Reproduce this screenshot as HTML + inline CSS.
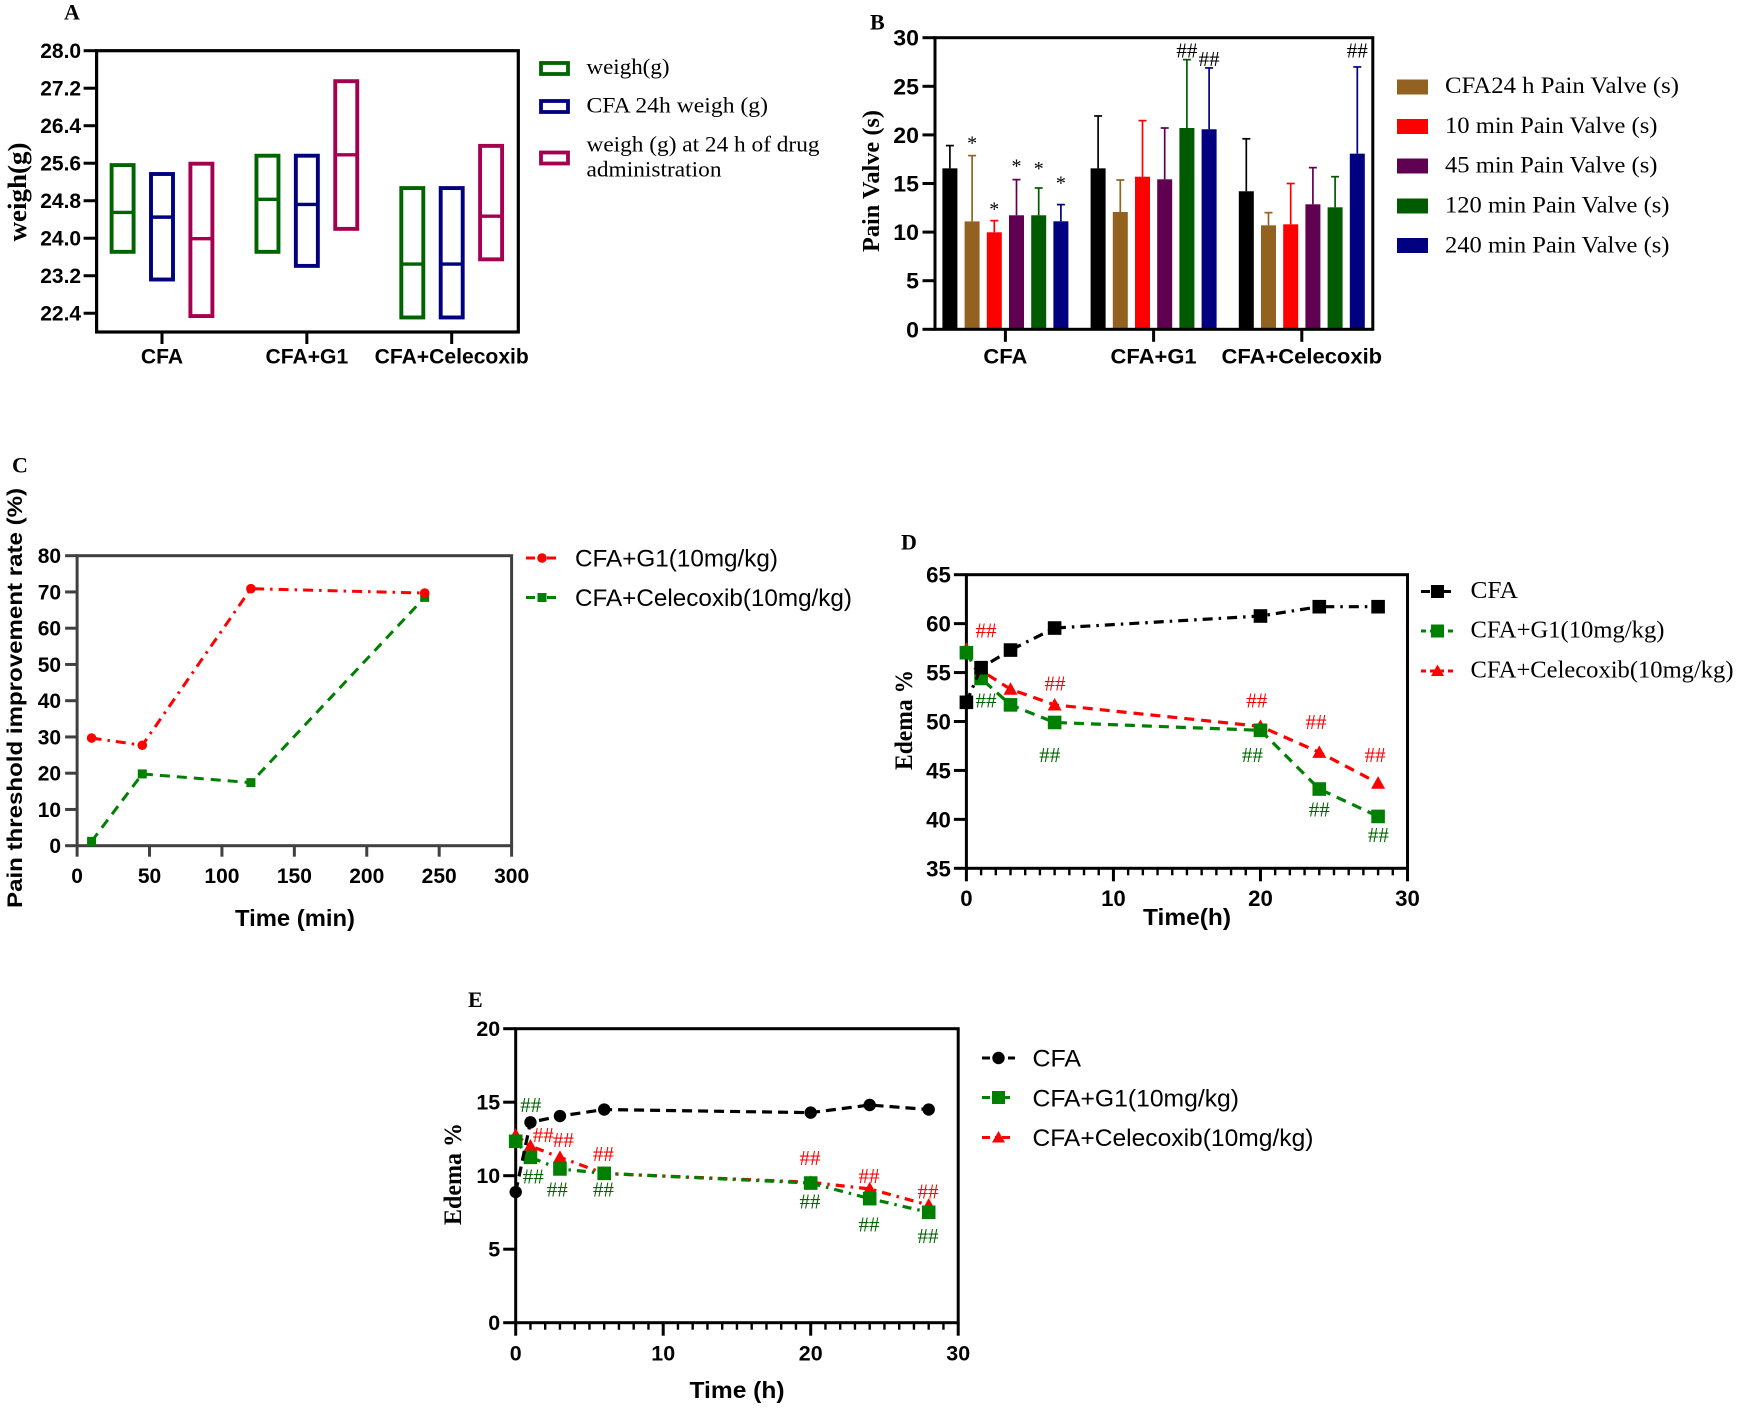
<!DOCTYPE html>
<html>
<head>
<meta charset="utf-8">
<title>Multi-panel chart</title>
<style>
html,body{margin:0;padding:0;background:#fff;}
svg{display:block;}
.sans{font-family:"Liberation Sans",sans-serif;}
.serif{font-family:"Liberation Serif",serif;}
</style>
</head>
<body>
<svg id="fig" xmlns="http://www.w3.org/2000/svg" width="1739" height="1408" viewBox="0 0 1739 1408">
<rect width="1739" height="1408" fill="#fff"/>

<!-- Panel letters -->
<g class="serif" font-weight="bold" font-size="22" fill="#000">
<text x="64" y="19.5">A</text>
<text x="870" y="29.5">B</text>
<text x="12" y="472.5">C</text>
<text x="901" y="549.5">D</text>
<text x="468" y="1007">E</text>
</g>

<!-- Axis titles -->
<g class="serif" font-weight="bold" fill="#000" text-anchor="middle">
<text transform="translate(26,192) rotate(-90)" font-size="26" textLength="99" lengthAdjust="spacingAndGlyphs">weigh(g)</text>
<text transform="translate(879,181) rotate(-90)" font-size="24" textLength="142" lengthAdjust="spacingAndGlyphs">Pain Valve (s)</text>
<text transform="translate(912,720) rotate(-90)" font-size="25" textLength="100" lengthAdjust="spacingAndGlyphs">Edema %</text>
<text transform="translate(461,1174) rotate(-90)" font-size="25" textLength="102" lengthAdjust="spacingAndGlyphs">Edema %</text>
</g>
<g class="sans" font-weight="bold" fill="#000" text-anchor="middle">
<text transform="translate(22,698) rotate(-90)" font-size="21" textLength="420" lengthAdjust="spacingAndGlyphs">Pain threshold improvement rate (%)</text>
<text x="295" y="926" font-size="23" textLength="120" lengthAdjust="spacingAndGlyphs">Time (min)</text>
<text x="1187" y="925" font-size="23" textLength="88" lengthAdjust="spacingAndGlyphs">Time(h)</text>
<text x="737" y="1398" font-size="23" textLength="95" lengthAdjust="spacingAndGlyphs">Time (h)</text>
</g>

<!-- Legend A -->
<g class="serif" font-size="22" fill="#000">
<rect x="541" y="63" width="27" height="11" fill="none" stroke="#006400" stroke-width="3.8"/>
<text x="586.5" y="74" textLength="83" lengthAdjust="spacingAndGlyphs">weigh(g)</text>
<rect x="541" y="101" width="27" height="11" fill="none" stroke="#000080" stroke-width="3.8"/>
<text x="586.5" y="112.5" textLength="181.5" lengthAdjust="spacingAndGlyphs">CFA 24h weigh (g)</text>
<rect x="541" y="152.5" width="27" height="11" fill="none" stroke="#a50050" stroke-width="3.8"/>
<text x="586.5" y="151.5" textLength="233" lengthAdjust="spacingAndGlyphs">weigh (g) at 24 h of drug</text>
<text x="586.5" y="176.5" textLength="135" lengthAdjust="spacingAndGlyphs">administration</text>
</g>

<!-- Legend B -->
<g class="serif" font-size="23" fill="#000">
<rect x="1397" y="79.5" width="31" height="15" fill="#946220"/>
<text x="1445" y="93" textLength="234" lengthAdjust="spacingAndGlyphs">CFA24 h Pain Valve (s)</text>
<rect x="1397" y="119" width="31" height="15" fill="#ff0000"/>
<text x="1445" y="133" textLength="212.5" lengthAdjust="spacingAndGlyphs">10 min Pain Valve (s)</text>
<rect x="1397" y="158.5" width="31" height="15" fill="#600050"/>
<text x="1445" y="172.5" textLength="212.5" lengthAdjust="spacingAndGlyphs">45 min Pain Valve (s)</text>
<rect x="1397" y="198.5" width="31" height="15" fill="#005a00"/>
<text x="1445" y="212.5" textLength="224.5" lengthAdjust="spacingAndGlyphs">120 min Pain Valve (s)</text>
<rect x="1397" y="238" width="31" height="15" fill="#000080"/>
<text x="1445" y="252.5" textLength="224.5" lengthAdjust="spacingAndGlyphs">240 min Pain Valve (s)</text>
</g>

<!-- Legend C -->
<g class="sans" font-size="24" fill="#000">
<line x1="526" y1="558" x2="557" y2="558" stroke="#ff0000" stroke-width="3" stroke-dasharray="9 5 2 5"/>
<circle cx="542" cy="558" r="4.8" fill="#ff0000"/>
<text x="575" y="566.5" textLength="203" lengthAdjust="spacingAndGlyphs">CFA+G1(10mg/kg)</text>
<line x1="526" y1="597.5" x2="557" y2="597.5" stroke="#008000" stroke-width="3" stroke-dasharray="9 5 2 5"/>
<rect x="537.5" y="593" width="9" height="9" fill="#008000"/>
<text x="575" y="606" textLength="277" lengthAdjust="spacingAndGlyphs">CFA+Celecoxib(10mg/kg)</text>
</g>

<!-- Legend D -->
<g class="serif" font-size="24" fill="#000">
<line x1="1421" y1="591.5" x2="1453" y2="591.5" stroke="#000" stroke-width="3" stroke-dasharray="9 5 2 5"/>
<rect x="1431" y="585" width="13" height="13" fill="#000"/>
<text x="1470.5" y="598" textLength="47.5" lengthAdjust="spacingAndGlyphs">CFA</text>
<line x1="1421" y1="631" x2="1453" y2="631" stroke="#008000" stroke-width="3" stroke-dasharray="5 4"/>
<rect x="1431" y="624.5" width="13" height="13" fill="#008000"/>
<text x="1470.5" y="637.5" textLength="194" lengthAdjust="spacingAndGlyphs">CFA+G1(10mg/kg)</text>
<line x1="1421" y1="671" x2="1453" y2="671" stroke="#ff0000" stroke-width="3" stroke-dasharray="5 4"/>
<polygon points="1437.5,664.5 1444,676 1431,676" fill="#ff0000"/>
<text x="1470.5" y="677.5" textLength="263" lengthAdjust="spacingAndGlyphs">CFA+Celecoxib(10mg/kg)</text>
</g>

<!-- Legend E -->
<g class="sans" font-size="24" fill="#000">
<line x1="982" y1="1058" x2="1015" y2="1058" stroke="#000" stroke-width="3" stroke-dasharray="8 5"/>
<circle cx="998.5" cy="1058" r="6.2" fill="#000"/>
<text x="1032.5" y="1066.5" textLength="48.5" lengthAdjust="spacingAndGlyphs">CFA</text>
<line x1="982" y1="1097.5" x2="1015" y2="1097.5" stroke="#008000" stroke-width="3" stroke-dasharray="8 5 2 5"/>
<rect x="992" y="1091" width="13" height="13" fill="#008000"/>
<text x="1032.5" y="1106.5" textLength="206.5" lengthAdjust="spacingAndGlyphs">CFA+G1(10mg/kg)</text>
<line x1="982" y1="1137.5" x2="1015" y2="1137.5" stroke="#ff0000" stroke-width="3" stroke-dasharray="8 5 2 5"/>
<polygon points="998.5,1131 1005,1142.5 992,1142.5" fill="#ff0000"/>
<text x="1032.5" y="1146" textLength="281" lengthAdjust="spacingAndGlyphs">CFA+Celecoxib(10mg/kg)</text>
</g>

<g id="charts"></g>
</svg>

<script>
// ---------- Panel A data (floating bars: low, high, mean) ----------
const aCategories = ['CFA', 'CFA+G1', 'CFA+Celecoxib'];
const aTickLabels = ['22.4', '23.2', '24.0', '24.8', '25.6', '26.4', '27.2', '28.0'];
const aWeighLow = [23.71, 23.71, 22.31];
const aWeighHigh = [25.56, 25.76, 25.07];
const aWeighMid = [24.55, 24.83, 23.45];
const aCfa24Low = [23.12, 23.41, 22.31];
const aCfa24High = [25.37, 25.76, 25.07];
const aCfa24Mid = [24.45, 24.72, 23.45];
const aDrugLow = [22.34, 24.20, 23.55];
const aDrugHigh = [25.59, 27.35, 25.97];
const aDrugMid = [23.99, 25.78, 24.47];

// ---------- Panel B data (bars with upper error) ----------
const bCategories = ['CFA', 'CFA+G1', 'CFA+Celecoxib'];
const bTickLabels = ['0', '5', '10', '15', '20', '25', '30'];
const bBase = [16.56, 16.56, 14.2];
const bBaseErr = [18.9, 21.95, 19.6];
const bCfa24 = [11.1, 12.07, 10.7];
const bCfa24Err = [17.87, 15.36, 12.0];
const b10 = [9.98, 15.7, 10.8];
const b10Err = [11.18, 21.47, 15.0];
const b45 = [11.73, 15.43, 12.86];
const b45Err = [15.4, 20.71, 16.63];
const b120 = [11.73, 20.71, 12.55];
const b120Err = [14.54, 27.74, 15.7];
const b240 = [11.11, 20.58, 18.07];
const b240Err = [12.83, 26.89, 26.99];
const bStarSeries = [1, 2, 3, 4, 5];
const bStarLevels = [19.47, 12.69, 17.11, 16.83, 15.36];
const bHashGroup = [1, 1, 2];
const bHashSeries = [4, 5, 5];
const bHashLevels = [28.67, 27.8, 28.67];

// ---------- Panel C data ----------
const cTimes = [10, 45, 120, 240];
const cG1 = [29.7, 27.7, 70.9, 69.7];
const cCelecoxib = [1.2, 19.8, 17.4, 68.5];
const cYTicks = [0, 10, 20, 30, 40, 50, 60, 70, 80];
const cXTicks = [0, 50, 100, 150, 200, 250, 300];

// ---------- Panel D data ----------
const dTimes = [0, 1, 3, 6, 20, 24, 28];
const dCfa = [51.96, 55.5, 57.3, 59.55, 60.78, 61.73, 61.73];
const dG1 = [57.03, 54.4, 51.7, 49.9, 49.1, 43.1, 40.3];
const dCelecoxib = [57.4, 55.2, 53.3, 51.7, 49.5, 46.85, 43.7];
const dYTicks = [35, 40, 45, 50, 55, 60, 65];
const dXTicks = [0, 10, 20, 30];
const dRedHashT = [1.33, 6.03, 19.75, 23.78, 27.8];
const dRedHashV = [59.28, 53.9, 52.13, 49.95, 46.6];
const dGreenHashT = [1.33, 5.67, 19.45, 24.0, 28.02];
const dGreenHashV = [52.13, 46.58, 46.58, 41.03, 38.4];

// ---------- Panel E data ----------
const eTimes = [0, 1, 3, 6, 20, 24, 28];
const eCfa = [8.89, 13.63, 14.06, 14.5, 14.29, 14.81, 14.5];
const eG1 = [12.34, 11.25, 10.46, 10.16, 9.5, 8.44, 7.51];
const eCelecoxib = [12.77, 12.02, 11.25, 10.15, 9.55, 9.1, 8.0];
const eYTicks = [0, 5, 10, 15, 20];
const eXTicks = [0, 10, 20, 30];
const eRedHashT = [1.87, 3.23, 5.94, 19.95, 23.95, 27.95];
const eRedHashV = [12.77, 12.43, 11.48, 11.2, 9.98, 8.94];
const eGreenHashT = [1.02, 1.19, 2.82, 5.94, 19.95, 23.95, 27.95];
const eGreenHashV = [14.81, 9.93, 9.07, 9.07, 8.26, 6.69, 5.9];

// ---------- Helpers ----------
const NS = 'http://www.w3.org/2000/svg';
const root = document.getElementById('charts');
function mk(parent, tag, attrs) {
  const n = document.createElementNS(NS, tag);
  for (const k in attrs) n.setAttribute(k, attrs[k]);
  parent.appendChild(n);
  return n;
}
const SANS = '"Liberation Sans",sans-serif';
const SERIF = '"Liberation Serif",serif';

function label(parent, str, x, y, o) {
  const t = mk(parent, 'text', {
    transform: 'translate(' + x + ',' + y + ') scale(' + (o.sx || 1) + ',1)',
    'font-family': o.family || SANS,
    'font-size': o.size,
    'font-weight': o.weight || 'bold',
    'text-anchor': o.anchor || 'middle',
    fill: o.fill || '#000'
  });
  t.textContent = str;
  return t;
}
function frame(parent, b, color, w) {
  const r = mk(parent, 'rect', {
    x: b.l, y: b.t, width: b.r - b.l, height: b.b - b.t,
    fill: 'none', stroke: color, 'stroke-width': w
  });
  
  
}
function yAxis(parent, b, scale, values, texts, o) {
  values.forEach(function (v, i) {
    const y = scale(v);
    const tick = mk(parent, 'line', { x1: b.l - o.len, x2: b.l, y1: y, y2: y, stroke: o.color, 'stroke-width': 3 });
    
    
    const lab = label(parent, texts[i], b.l - o.gap, y + o.dy, { size: o.size, sx: o.sx, anchor: 'end', weight: o.weight });
    
    
  });
}
function xAxisNumeric(parent, b, scale, values, o) {
  values.forEach(function (v) {
    const x = scale(v);
    const tick = mk(parent, 'line', { x1: x, x2: x, y1: b.b, y2: b.b + o.len, stroke: o.color, 'stroke-width': 3 });
    
    
    const lab = label(parent, String(v), x, b.b + o.labelDy, { size: o.size, sx: o.sx, weight: o.weight });
    
    
  });
}
function minorTicks(parent, b, scale, from, to, len) {
  for (let v = from; v <= to; v++) {
    if (v % 10 === 0) continue;
    const x = scale(v);
    const tick = mk(parent, 'line', { x1: x, x2: x, y1: b.b, y2: b.b + len, stroke: '#000', 'stroke-width': 2.4 });
    
    
  }
}
function hashLabel(parent, x, y, color) {
  const t = label(parent, '##', x, y + 7, { family: SERIF, size: 21, weight: 'normal', fill: color });
  
  
}
function series(parent, name, xs, ys, xScale, yScale, color, dash, width, marker, size) {
  const pts = xs.map(function (x, i) { return xScale(x) + ',' + yScale(ys[i]); }).join(' ');
  const line = mk(parent, 'polyline', { points: pts, fill: 'none', stroke: color, 'stroke-width': width, 'stroke-dasharray': dash });
  
  
  xs.forEach(function (x, i) {
    const px = xScale(x), py = yScale(ys[i]);
    let m;
    if (marker === 'circle') m = mk(parent, 'circle', { cx: px, cy: py, r: size, fill: color });
    else if (marker === 'square') m = mk(parent, 'rect', { x: px - size, y: py - size, width: size * 2, height: size * 2, fill: color });
    else m = mk(parent, 'polygon', { points: px + ',' + (py - size) + ' ' + (px + size) + ',' + (py + size * 0.8) + ' ' + (px - size) + ',' + (py + size * 0.8), fill: color });
    
    
  });
}

// ---------- Panel A ----------
(function () {
  const g = mk(root, 'g', {});
  
  
  const b = { l: 96.6, r: 518.3, t: 50.7, b: 332 };
  const yMin = 22, yMax = 28;
  const y = function (v) { return b.b + (v - yMin) / (yMax - yMin) * (b.t - b.b); };
  const groupX = function (i) { return 162 + i * 144.85; };
  const step = 39.4;
  const sets = [
    { name: 'weigh-box', low: aWeighLow, high: aWeighHigh, mid: aWeighMid, color: '#006400' },
    { name: 'cfa-24h-box', low: aCfa24Low, high: aCfa24High, mid: aCfa24Mid, color: '#000080' },
    { name: 'drug-24h-box', low: aDrugLow, high: aDrugHigh, mid: aDrugMid, color: '#a50050' }
  ];
  aCategories.forEach(function (cat, i) {
    sets.forEach(function (s, j) {
      const cx = groupX(i) + (j - 1) * step;
      const box = mk(g, 'rect', { x: cx - 11, y: y(s.high[i]), width: 22, height: y(s.low[i]) - y(s.high[i]), fill: 'none', stroke: s.color, 'stroke-width': 3.9 });
      
      
      const mid = mk(g, 'line', { x1: cx - 11, x2: cx + 11, y1: y(s.mid[i]), y2: y(s.mid[i]), stroke: s.color, 'stroke-width': 3.4 });
      
      
    });
    const tick = mk(g, 'line', { x1: groupX(i), x2: groupX(i), y1: b.b, y2: b.b + 12, stroke: '#000', 'stroke-width': 3 });
    
    
    const lab = label(g, cat, groupX(i), 363.5, { size: 21, sx: 1.005 });
    
    
  });
  frame(g, b, '#000', 3.2);
  yAxis(g, b, y, aTickLabels.map(Number), aTickLabels, { len: 13, gap: 15.5, dy: 7.5, size: 21, sx: 1.0, color: '#000' });
})();

// ---------- Panel B ----------
(function () {
  const g = mk(root, 'g', {});
  
  
  const b = { l: 935, r: 1372.8, t: 37.7, b: 329.3 };
  const y = function (v) { return b.b + v / 30 * (b.t - b.b); };
  const groupX = function (i) { return 1005.4 + i * 148.2; };
  const barX = function (i, j) { return groupX(i) + (j - 2.5) * 22.2; };
  const sets = [
    { name: 'baseline-bar', v: bBase, e: bBaseErr, color: '#000' },
    { name: 'cfa24h-bar', v: bCfa24, e: bCfa24Err, color: '#946220' },
    { name: '10min-bar', v: b10, e: b10Err, color: '#ff0000' },
    { name: '45min-bar', v: b45, e: b45Err, color: '#600050' },
    { name: '120min-bar', v: b120, e: b120Err, color: '#005a00' },
    { name: '240min-bar', v: b240, e: b240Err, color: '#000080' }
  ];
  bCategories.forEach(function (cat, i) {
    sets.forEach(function (s, j) {
      const cx = barX(i, j);
      const bar = mk(g, 'rect', { x: cx - 7.5, y: y(s.v[i]), width: 15, height: y(0) - y(s.v[i]), fill: s.color });
      
      
      const stem = mk(g, 'line', { x1: cx, x2: cx, y1: y(s.v[i]), y2: y(s.e[i]), stroke: s.color, 'stroke-width': 1.7 });
      
      
      const cap = mk(g, 'line', { x1: cx - 4, x2: cx + 4, y1: y(s.e[i]), y2: y(s.e[i]), stroke: s.color, 'stroke-width': 1.7 });
      
      
    });
    const tick = mk(g, 'line', { x1: groupX(i), x2: groupX(i), y1: b.b, y2: b.b + 12.5, stroke: '#000', 'stroke-width': 3 });
    
    
    const lab = label(g, cat, groupX(i), 363.5, { size: 21, sx: 1.047 });
    
    
  });
  frame(g, b, '#000', 3);
  yAxis(g, b, y, bTickLabels.map(Number), bTickLabels, { len: 12.5, gap: 16, dy: 8, size: 22, sx: 1.05, color: '#000' });
  bStarSeries.forEach(function (sIdx, i) {
    const star = label(g, '*', barX(0, sIdx), y(bStarLevels[i]) + 9.4, { family: SERIF, size: 20, weight: 'normal' });
    
    
  });
  bHashSeries.forEach(function (sIdx, i) {
    hashLabel(g, barX(bHashGroup[i], sIdx), y(bHashLevels[i]), '#000');
  });
})();

// ---------- Panel C ----------
(function () {
  const g = mk(root, 'g', {});
  
  
  const b = { l: 77.1, r: 511.6, t: 555.7, b: 845.7 };
  const x = function (v) { return b.l + v / 300 * (b.r - b.l); };
  const y = function (v) { return b.b + v / 80 * (b.t - b.b); };
  frame(g, b, '#404040', 3);
  yAxis(g, b, y, cYTicks, cYTicks.map(String), { len: 12, gap: 16, dy: 7.5, size: 21, sx: 1.0, color: '#404040', weight: 'bold' });
  xAxisNumeric(g, b, x, cXTicks, { len: 11, labelDy: 37.5, size: 21, sx: 1.0, color: '#404040', weight: 'bold' });
  series(g, 'celecoxib', cTimes, cCelecoxib, x, y, '#008000', '10 7', 3, 'square', 4.5);
  series(g, 'g1', cTimes, cG1, x, y, '#ff0000', '10 6 2.5 6', 3, 'circle', 4.8);
})();

// ---------- Panel D ----------
(function () {
  const g = mk(root, 'g', {});
  
  
  const b = { l: 966.4, r: 1407.5, t: 574.7, b: 868.3 };
  const x = function (v) { return b.l + v / 30 * (b.r - b.l); };
  const y = function (v) { return b.b + (v - 35) / 30 * (b.t - b.b); };
  frame(g, b, '#000', 3);
  minorTicks(g, b, x, 1, 29, 7);
  yAxis(g, b, y, dYTicks, dYTicks.map(String), { len: 12.5, gap: 15.5, dy: 8, size: 22, sx: 1.01, color: '#000' });
  xAxisNumeric(g, b, x, dXTicks, { len: 13, labelDy: 37.5, size: 22, sx: 1.01, color: '#000' });
  series(g, 'celecoxib', dTimes, dCelecoxib, x, y, '#ff0000', '10 7', 3.2, 'triangle', 7);
  series(g, 'g1', dTimes, dG1, x, y, '#008000', '10 7', 3.2, 'square', 6.8);
  series(g, 'cfa', dTimes, dCfa, x, y, '#000', '10 6 2.5 6', 3.2, 'square', 6.8);
  dRedHashT.forEach(function (t, i) { hashLabel(g, x(t), y(dRedHashV[i]), '#ff0000'); });
  dGreenHashT.forEach(function (t, i) { hashLabel(g, x(t), y(dGreenHashV[i]), '#006400'); });
})();

// ---------- Panel E ----------
(function () {
  const g = mk(root, 'g', {});
  
  
  const b = { l: 515.7, r: 958.2, t: 1028.7, b: 1322.7 };
  const x = function (v) { return b.l + v / 30 * (b.r - b.l); };
  const y = function (v) { return b.b + v / 20 * (b.t - b.b); };
  frame(g, b, '#000', 3);
  minorTicks(g, b, x, 1, 29, 7);
  yAxis(g, b, y, eYTicks, eYTicks.map(String), { len: 12.5, gap: 15.5, dy: 7.5, size: 21, sx: 1.02, color: '#000', weight: 'bold' });
  xAxisNumeric(g, b, x, eXTicks, { len: 13, labelDy: 38, size: 21, sx: 1.02, color: '#000', weight: 'bold' });
  series(g, 'celecoxib', eTimes, eCelecoxib, x, y, '#ff0000', '9 6 2.5 6', 3.2, 'triangle', 7);
  series(g, 'g1', eTimes, eG1, x, y, '#008000', '9 6 2.5 6', 3.2, 'square', 6.8);
  series(g, 'cfa', eTimes, eCfa, x, y, '#000', '10 6', 3.2, 'circle', 6.2);
  eRedHashT.forEach(function (t, i) { hashLabel(g, x(t), y(eRedHashV[i]), '#ff0000'); });
  eGreenHashT.forEach(function (t, i) { hashLabel(g, x(t), y(eGreenHashV[i]), '#006400'); });
})();
</script>
</body>
</html>
